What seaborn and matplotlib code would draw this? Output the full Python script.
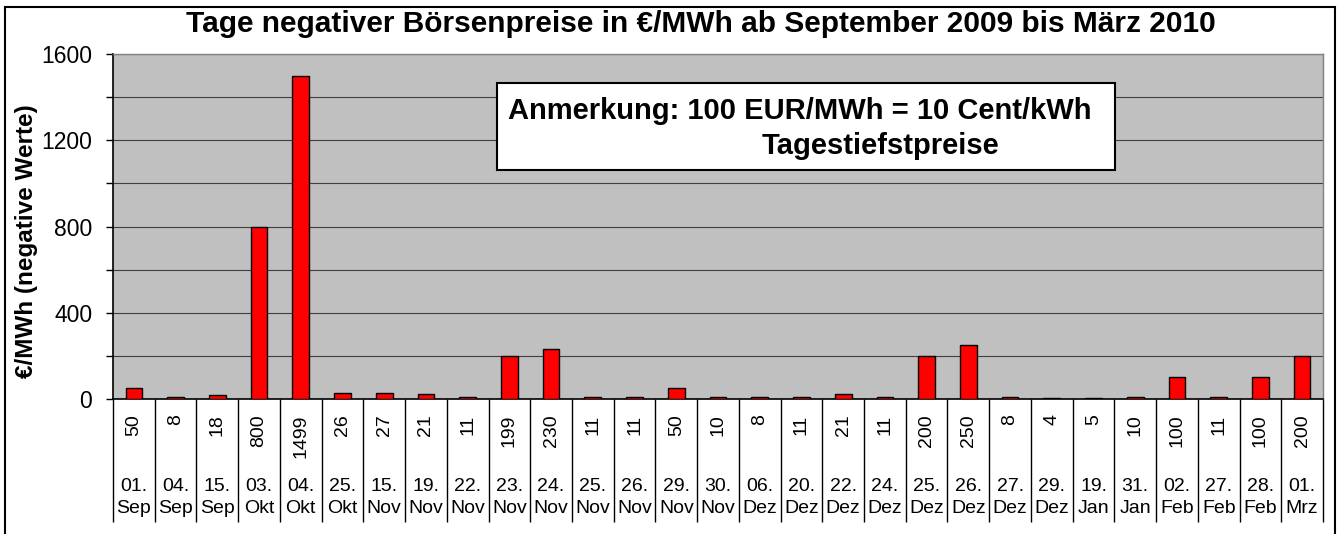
import numpy as np
import pandas as pd
import matplotlib
matplotlib.use("Agg")
import matplotlib.pyplot as plt
import seaborn as sns
from matplotlib.patches import Rectangle

days = ["01.", "04.", "15.", "03.", "04.", "25.", "15.", "19.", "22.", "23.",
        "24.", "25.", "26.", "29.", "30.", "06.", "20.", "22.", "24.", "25.",
        "26.", "27.", "29.", "19.", "31.", "02.", "27.", "28.", "01."]
months = ["Sep", "Sep", "Sep", "Okt", "Okt", "Okt", "Nov", "Nov", "Nov", "Nov",
          "Nov", "Nov", "Nov", "Nov", "Nov", "Dez", "Dez", "Dez", "Dez", "Dez",
          "Dez", "Dez", "Dez", "Jan", "Jan", "Feb", "Feb", "Feb", "Mrz"]
prices = [50, 8, 18, 800, 1499, 26, 27, 21, 11, 199,
          230, 11, 11, 50, 10, 8, 11, 21, 11, 200,
          250, 8, 4, 5, 10, 100, 11, 100, 200]
y_ticks = [0, 400, 800, 1200, 1600]
title = "Tage negativer Börsenpreise in €/MWh ab September 2009 bis März 2010"
ylabel = "€/MWh (negative Werte)"
note1 = "Anmerkung: 100 EUR/MWh = 10 Cent/kWh"
note2 = "Tagestiefstpreise"

labels = [f"{d}\n{m}" for d, m in zip(days, months)]
df = pd.DataFrame({"label": labels, "price": prices})

plt.rcParams["font.family"] = ["Liberation Sans", "DejaVu Sans"]

W, H = 1340, 534
fig = plt.figure(figsize=(W / 100, H / 100), dpi=100)
fig.patch.set_facecolor("white")

ax = fig.add_axes([113 / W, 1 - 399 / H, 1210 / W, 345 / H])
ax.set_facecolor("#C0C0C0")

sns.barplot(data=df, x="label", y="price", color="#FF0000", saturation=1,
            edgecolor="black", linewidth=1, width=0.4, ax=ax, zorder=3)

n = len(prices)
ax.set_xlim(-0.5, n - 0.5)
ax.set_ylim(0, 1600)
ax.set_yticks(y_ticks)
ax.set_yticks(np.arange(200, 1600, 400), minor=True)
ax.set_yticklabels([str(v) for v in y_ticks], fontsize=16.5)
ax.grid(True, which="both", axis="y", color="#404040", linewidth=0.8, zorder=0)
ax.set_axisbelow(True)
ax.tick_params(axis="y", which="both", length=5, width=1, pad=10, color="black")

ax.set_xticks(range(n))
ax.set_xticklabels(labels, fontsize=14, linespacing=1.38)
ax.set_xticks(np.arange(-0.5, n, 1), minor=True)
ax.tick_params(axis="x", which="major", length=0, pad=57)
ax.tick_params(axis="x", which="minor", length=88.5, width=1, color="black")

for i, v in enumerate(prices):
    ax.annotate(str(v), xy=(i, 0), xycoords=("data", "axes fraction"),
                xytext=(0, -11), textcoords="offset points", rotation=90,
                ha="center", va="top", fontsize=14)

ax.set_xlabel("")
ax.set_ylabel(ylabel, fontsize=17.5, fontweight="bold")
ax.yaxis.set_label_coords(-0.062, 0.458)

for side in ["top", "right"]:
    ax.spines[side].set_color("#808080")
    ax.spines[side].set_linewidth(1)
for side in ["left", "bottom"]:
    ax.spines[side].set_color("black")
    ax.spines[side].set_linewidth(1.2)

ax.add_patch(Rectangle((0.3174, 0.6638), 0.5107, 0.2522, transform=ax.transAxes,
                       facecolor="white", edgecolor="black", linewidth=1.5, zorder=5))
ax.text(0.3264, 0.8348, note1, transform=ax.transAxes, ha="left", va="center",
        fontsize=21, fontweight="bold", zorder=6)
ax.text(0.6347, 0.7333, note2, transform=ax.transAxes, ha="center", va="center",
        fontsize=21, fontweight="bold", zorder=6)

fig.text(0.523, 1 - 24 / H, title, ha="center", va="center",
         fontsize=21.5, fontweight="bold")

fig.patches.append(Rectangle((5 / W, -0.05), 1330 / W, 1 - 7 / H + 0.05,
                             transform=fig.transFigure, facecolor="none",
                             edgecolor="black", linewidth=1.5))

fig.savefig("out.png", dpi=100)
